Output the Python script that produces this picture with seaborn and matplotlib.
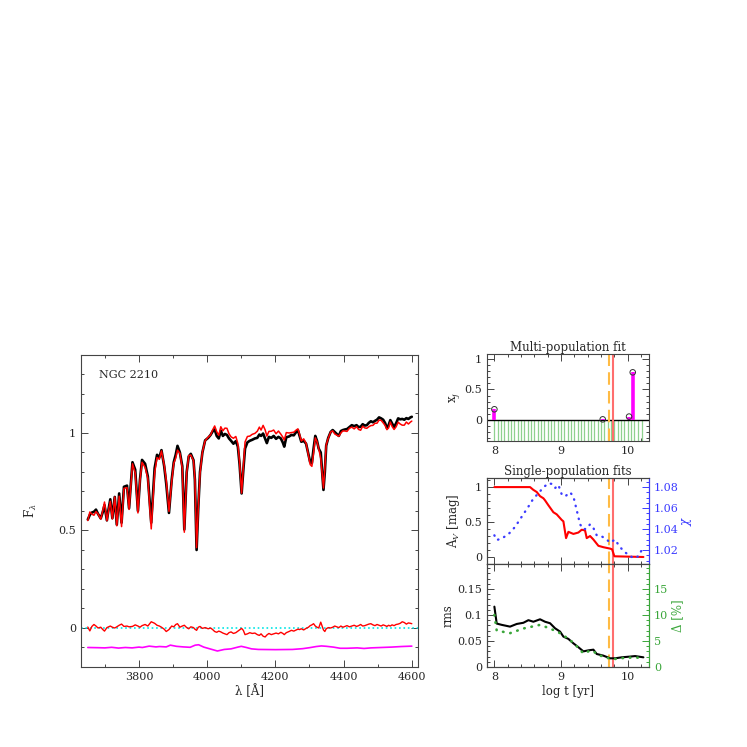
import matplotlib
matplotlib.use("Agg")
import matplotlib.pyplot as plt
import seaborn as sns
from matplotlib.ticker import MultipleLocator, FormatStrFormatter

# ---- spectrum (left panel) ----
wave = [3650, 3656, 3662, 3668, 3674, 3680, 3688, 3694, 3699, 3706,
        3711, 3716, 3722, 3729, 3735, 3742, 3749, 3756, 3765, 3771,
        3781, 3789, 3797, 3803, 3809, 3818, 3826, 3836, 3846, 3853,
        3860, 3866, 3874, 3880, 3888, 3896, 3902, 3908, 3913, 3920,
        3927, 3933, 3940, 3946, 3952, 3960, 3964, 3969, 3974, 3979,
        3986, 3994, 4003, 4010, 4016, 4022, 4028, 4034, 4040, 4046,
        4052, 4058, 4064, 4070, 4077, 4084, 4090, 4095, 4101, 4106,
        4111, 4118, 4125, 4132, 4140, 4147, 4153, 4158, 4164, 4170,
        4175, 4181, 4188, 4195, 4202, 4209, 4216, 4222, 4226, 4232,
        4240, 4247, 4254, 4261, 4266, 4271, 4276, 4283, 4290, 4297,
        4302, 4307, 4312, 4317, 4322, 4327, 4333, 4338, 4341, 4345,
        4349, 4355, 4362, 4368, 4374, 4380, 4386, 4392, 4398, 4404,
        4410, 4417, 4424, 4431, 4438, 4444, 4450, 4456, 4462, 4468,
        4474, 4480, 4486, 4492, 4498, 4504, 4510, 4516, 4522, 4527,
        4532, 4537, 4542, 4548, 4554, 4560, 4566, 4572, 4578, 4584,
        4590, 4596, 4600]
obs_flux = [0.556, 0.580, 0.592, 0.596, 0.607, 0.585, 0.562, 0.595, 0.630, 0.552,
            0.610, 0.660, 0.563, 0.672, 0.530, 0.690, 0.540, 0.724, 0.730, 0.614,
            0.850, 0.812, 0.600, 0.760, 0.862, 0.842, 0.777, 0.540, 0.820, 0.888,
            0.875, 0.912, 0.830, 0.740, 0.590, 0.760, 0.850, 0.890, 0.934, 0.900,
            0.830, 0.505, 0.800, 0.880, 0.893, 0.860, 0.760, 0.400, 0.620, 0.800,
            0.900, 0.962, 0.975, 0.990, 1.008, 1.018, 0.985, 0.972, 1.012, 0.985,
            0.995, 0.990, 0.972, 0.960, 0.945, 0.958, 0.930, 0.840, 0.690, 0.810,
            0.920, 0.952, 0.960, 0.965, 0.972, 0.975, 0.992, 0.985, 0.997, 0.970,
            0.948, 0.980, 0.975, 0.985, 0.970, 0.980, 0.972, 0.950, 0.930, 0.978,
            0.982, 0.990, 0.988, 1.005, 1.015, 0.985, 0.955, 0.960, 0.945, 0.890,
            0.850, 0.845, 0.920, 0.985, 0.960, 0.920, 0.900, 0.780, 0.708, 0.800,
            0.935, 0.975, 1.005, 1.015, 1.005, 0.995, 0.985, 1.010, 1.015, 1.018,
            1.020, 1.030, 1.040, 1.035, 1.040, 1.030, 1.032, 1.045, 1.038, 1.040,
            1.052, 1.060, 1.055, 1.062, 1.068, 1.080, 1.075, 1.068, 1.050, 1.025,
            1.040, 1.066, 1.050, 1.030, 1.050, 1.075, 1.070, 1.072, 1.068, 1.076,
            1.072, 1.080, 1.083]
residual = [0.005, -0.015, 0.008, 0.018, 0.010, 0.000, 0.004, -0.008, -0.016, 0.002,
            0.006, 0.010, 0.004, 0.000, 0.006, 0.014, 0.020, 0.008, 0.010, 0.006,
            0.008, 0.016, 0.010, 0.004, 0.012, 0.018, 0.010, 0.032, 0.024, 0.014,
            0.010, 0.004, -0.006, -0.018, -0.008, 0.010, 0.006, 0.018, 0.022, 0.004,
            0.010, 0.014, 0.002, -0.004, 0.006, 0.002, -0.006, -0.012, 0.004, 0.008,
            -0.002, 0.002, -0.004, 0.000, -0.008, -0.018, -0.022, -0.016, -0.020, -0.026,
            -0.030, -0.034, -0.024, -0.020, -0.028, -0.024, -0.016, -0.010, -0.002, -0.012,
            -0.034, -0.030, -0.024, -0.028, -0.026, -0.034, -0.038, -0.030, -0.042, -0.046,
            -0.036, -0.028, -0.034, -0.030, -0.026, -0.030, -0.022, -0.028, -0.034, -0.024,
            -0.018, -0.012, -0.016, -0.010, -0.006, -0.008, -0.004, -0.010, -0.002, 0.004,
            0.012, 0.016, 0.022, 0.010, 0.004, 0.000, 0.030, 0.004, -0.010, -0.018,
            -0.004, 0.002, 0.000, 0.004, 0.010, 0.006, 0.002, 0.010, 0.004, 0.008,
            0.012, 0.006, 0.010, 0.014, 0.008, 0.012, 0.018, 0.010, 0.012, 0.016,
            0.020, 0.022, 0.016, 0.012, 0.018, 0.014, 0.010, 0.016, 0.012, 0.008,
            0.014, 0.010, 0.016, 0.012, 0.018, 0.020, 0.024, 0.032, 0.028, 0.020,
            0.026, 0.024, 0.022]
# model = observed - residual
model_flux = [o - r for o, r in zip(obs_flux, residual)]

weight_wave = [3650, 3680, 3700, 3720, 3740, 3760, 3780, 3800, 3810, 3830,
               3850, 3860, 3880, 3892, 3910, 3930, 3950, 3965, 3975, 3990,
               4010, 4030, 4050, 4070, 4090, 4100, 4115, 4130, 4150, 4200,
               4250, 4280, 4300, 4320, 4335, 4350, 4370, 4390, 4410, 4440,
               4460, 4480, 4510, 4540, 4570, 4600]
weight_flux = [-0.100, -0.101, -0.102, -0.099, -0.103, -0.100, -0.102, -0.098, -0.100, -0.093,
               -0.097, -0.095, -0.097, -0.088, -0.094, -0.097, -0.099, -0.088, -0.086, -0.098,
               -0.108, -0.118, -0.110, -0.107, -0.098, -0.094, -0.100, -0.107, -0.110, -0.111,
               -0.110, -0.106, -0.101, -0.095, -0.092, -0.094, -0.098, -0.104, -0.104, -0.102,
               -0.105, -0.102, -0.100, -0.098, -0.095, -0.093]

# ---- population fits (right panels) ----
base_logt = [8.00, 8.05, 8.10, 8.15, 8.20, 8.25, 8.30, 8.35, 8.40, 8.45,
             8.50, 8.55, 8.60, 8.65, 8.70, 8.75, 8.80, 8.85, 8.90, 8.95,
             9.00, 9.05, 9.10, 9.15, 9.20, 9.25, 9.30, 9.35, 9.40, 9.45,
             9.50, 9.55, 9.60, 9.65, 9.70, 9.75, 9.80, 9.85, 9.90, 9.95,
             10.00, 10.05, 10.10, 10.15, 10.22]
pop_logt = [8.0, 9.625, 10.02, 10.075]
pop_xj = [0.175, 0.01, 0.055, 0.78]
best_multi = 9.725
best_single = 9.78

av_logt = [8.0, 8.535, 8.585, 8.635, 8.685, 8.735, 8.76, 8.81, 8.885, 8.935,
           9.01, 9.035, 9.075, 9.11, 9.185, 9.26, 9.31, 9.36, 9.385, 9.435,
           9.485, 9.56, 9.635, 9.735, 9.765, 9.80, 10.235]
av_mag = [1.0, 1.0, 0.96, 0.93, 0.87, 0.84, 0.81, 0.74, 0.64, 0.61,
          0.53, 0.51, 0.27, 0.36, 0.33, 0.35, 0.39, 0.38, 0.27, 0.30,
          0.25, 0.16, 0.14, 0.12, 0.11, 0.01, 0.0]

chi_logt = [8.0, 8.035, 8.11, 8.21, 8.31, 8.41, 8.51, 8.585, 8.66, 8.735,
            8.81, 8.86, 8.91, 8.96, 9.01, 9.06, 9.135, 9.185, 9.235, 9.285,
            9.335, 9.385, 9.435, 9.485, 9.535, 9.61, 9.685, 9.735, 9.81, 9.86,
            9.935, 10.01, 10.085, 10.16, 10.21]
chi_val = [1.034, 1.0295, 1.031, 1.035, 1.042, 1.0517, 1.0613, 1.069, 1.074, 1.0797,
           1.0835, 1.083, 1.079, 1.082, 1.073, 1.071, 1.075, 1.071, 1.058, 1.0445,
           1.0397, 1.0404, 1.0445, 1.041, 1.034, 1.033, 1.030, 1.027, 1.030, 1.025,
           1.019, 1.0155, 1.0123, 1.014, 1.020]

rms_logt = [8.0, 8.035, 8.11, 8.235, 8.335, 8.435, 8.51, 8.585, 8.685, 8.76,
            8.835, 8.91, 8.985, 9.035, 9.11, 9.185, 9.26, 9.335, 9.41, 9.485,
            9.535, 9.635, 9.735, 9.81, 9.91, 10.035, 10.11, 10.235]
rms_val = [0.116, 0.0835, 0.081, 0.0776, 0.0827, 0.085, 0.090, 0.087, 0.0917, 0.087,
           0.0841, 0.0744, 0.068, 0.0584, 0.054, 0.0455, 0.038, 0.030, 0.032, 0.0333,
           0.025, 0.0218, 0.0167, 0.0167, 0.0186, 0.020, 0.021, 0.0186]

delta_logt = [8.0, 8.035, 8.235, 8.435, 8.685, 8.835, 8.985, 9.135, 9.235, 9.335,
              9.41, 9.485, 9.535, 9.635, 9.735, 9.81, 9.91, 10.035, 10.235]
delta_pct = [10.0, 7.0, 6.5, 7.4, 8.1, 7.4, 6.5, 5.2, 4.0, 2.6,
             3.0, 3.1, 2.4, 2.0, 1.6, 1.55, 1.7, 1.8, 1.8]

BLUE = "#3b3bff"
GREEN = "#3aa63a"
ORANGE = "#ffbb44"
SALMON = "#ff6e6e"
AXC = "#444444"

sns.set_style("ticks")
plt.rcParams["font.family"] = ["DejaVu Serif"]
plt.rcParams["mathtext.fontset"] = "dejavuserif"
plt.rcParams["axes.edgecolor"] = AXC
plt.rcParams["axes.linewidth"] = 0.8


def style(ax, xmaj, xmin, ymaj, ymin, right=True, fs=8):
    ax.xaxis.set_major_locator(MultipleLocator(xmaj))
    ax.xaxis.set_minor_locator(MultipleLocator(xmin))
    ax.yaxis.set_major_locator(MultipleLocator(ymaj))
    ax.yaxis.set_minor_locator(MultipleLocator(ymin))
    ax.xaxis.set_major_formatter(FormatStrFormatter("%g"))
    ax.yaxis.set_major_formatter(FormatStrFormatter("%g"))
    ax.tick_params(which="both", direction="in", top=True, right=right,
                   labelsize=fs, color=AXC, width=0.7)
    ax.tick_params(which="major", length=5)
    ax.tick_params(which="minor", length=2.5)


def mark_best(ax):
    ax.axvline(best_multi, color=ORANGE, lw=1.5, dashes=(6, 3))
    ax.axvline(best_single, color=SALMON, lw=1.5)


fig = plt.figure(figsize=(7.47, 7.47), dpi=100)

# left: spectrum
ax = fig.add_axes([0.1084, 0.1071, 0.4511, 0.4177])
ax.axhline(0, color="#00e5e5", lw=1.2, ls=":")
sns.lineplot(x=wave, y=obs_flux, ax=ax, color="black", lw=1.9, sort=False, estimator=None)
sns.lineplot(x=wave, y=model_flux, ax=ax, color="red", lw=1.1, sort=False, estimator=None)
sns.lineplot(x=wave, y=residual, ax=ax, color="red", lw=1.0, sort=False, estimator=None)
sns.lineplot(x=weight_wave, y=weight_flux, ax=ax, color="#ff00ff", lw=1.2, sort=False, estimator=None)
ax.set_xlim(3630, 4618)
ax.set_ylim(-0.2, 1.4)
style(ax, 200, 100, 0.5, 0.1)
ax.set_xlabel("λ [Å]", fontsize=8.5, labelpad=2)
ax.set_ylabel(r"F$_\lambda$", fontsize=8.5, labelpad=14)
ax.text(0.053, 0.936, "NGC 2210", transform=ax.transAxes, fontsize=8, va="center")

xlim_r = (7.89, 10.32)

# right top: multi-population fit
ax1 = fig.add_axes([0.652, 0.4096, 0.2169, 0.1165])
ax1.vlines(base_logt, -0.345, 0, colors="#8fd18f", lw=0.9)
ax1.axhline(0, color="black", lw=1.0)
mark_best(ax1)
ax1.vlines(pop_logt, 0, pop_xj, colors="#ff00ff", lw=2.6)
ax1.scatter(pop_logt, pop_xj, s=16, facecolors="none", edgecolors="#333333", linewidths=0.7, zorder=5)
ax1.set_xlim(*xlim_r)
ax1.set_ylim(-0.345, 1.08)
style(ax1, 1, 0.2, 0.5, 0.1)
ax1.set_ylabel(r"x$_j$", fontsize=8.5, labelpad=2)
ax1.set_title("Multi-population fit", fontsize=8.5, pad=1.5)

# right middle: single-population fits
ax2 = fig.add_axes([0.652, 0.2450, 0.2169, 0.1151])
mark_best(ax2)
sns.lineplot(x=av_logt, y=av_mag, ax=ax2, color="red", lw=1.5, sort=False, estimator=None)
ax2.set_xlim(*xlim_r)
ax2.set_ylim(-0.1, 1.13)
style(ax2, 1, 0.2, 0.5, 0.1, right=False)
ax2.tick_params(labelbottom=False)
ax2.set_ylabel(r"A$_V$ [mag]", fontsize=8.5, labelpad=2)
ax2.set_title("Single-population fits", fontsize=8.5, pad=1.5)
ax2b = ax2.twinx()
sns.lineplot(x=chi_logt, y=chi_val, ax=ax2b, color=BLUE, lw=1.7, ls=(0, (0.2, 2.6)),
             dash_capstyle="round", sort=False, estimator=None)
ax2b.set_ylim(1.0067, 1.0886)
ax2b.yaxis.set_major_locator(MultipleLocator(0.02))
ax2b.yaxis.set_minor_locator(MultipleLocator(0.005))
ax2b.yaxis.set_major_formatter(FormatStrFormatter("%g"))
ax2b.tick_params(which="both", direction="in", labelsize=8, color=BLUE, labelcolor=BLUE, width=0.7)
ax2b.tick_params(which="major", length=5)
ax2b.tick_params(which="minor", length=2.5)
ax2b.spines["right"].set_color(BLUE)
ax2b.set_ylabel(r"$\chi$", color=BLUE, fontsize=8.5, labelpad=1)

# right bottom: rms
ax3 = fig.add_axes([0.652, 0.1071, 0.2169, 0.1379])
mark_best(ax3)
sns.lineplot(x=rms_logt, y=rms_val, ax=ax3, color="black", lw=1.5, sort=False, estimator=None)
ax3.set_xlim(*xlim_r)
ax3.set_ylim(0, 0.198)
style(ax3, 1, 0.2, 0.05, 0.01, right=False)
ax3.set_xlabel("log t [yr]", fontsize=8.5, labelpad=2)
ax3.set_ylabel("rms", fontsize=8.5, labelpad=2)
ax3b = ax3.twinx()
sns.lineplot(x=delta_logt, y=delta_pct, ax=ax3b, color=GREEN, lw=1.9, ls=(0, (0.2, 2.6)),
             dash_capstyle="round", sort=False, estimator=None)
ax3b.set_ylim(0, 19.8)
ax3b.yaxis.set_major_locator(MultipleLocator(5))
ax3b.yaxis.set_minor_locator(MultipleLocator(1))
ax3b.tick_params(which="both", direction="in", labelsize=8, color=GREEN, labelcolor=GREEN, width=0.7)
ax3b.tick_params(which="major", length=5)
ax3b.tick_params(which="minor", length=2.5)
ax3b.spines["right"].set_color(GREEN)
ax3b.set_ylabel("Δ [%]", color=GREEN, fontsize=8.5, labelpad=2)

fig.savefig("out.png", dpi=100)
